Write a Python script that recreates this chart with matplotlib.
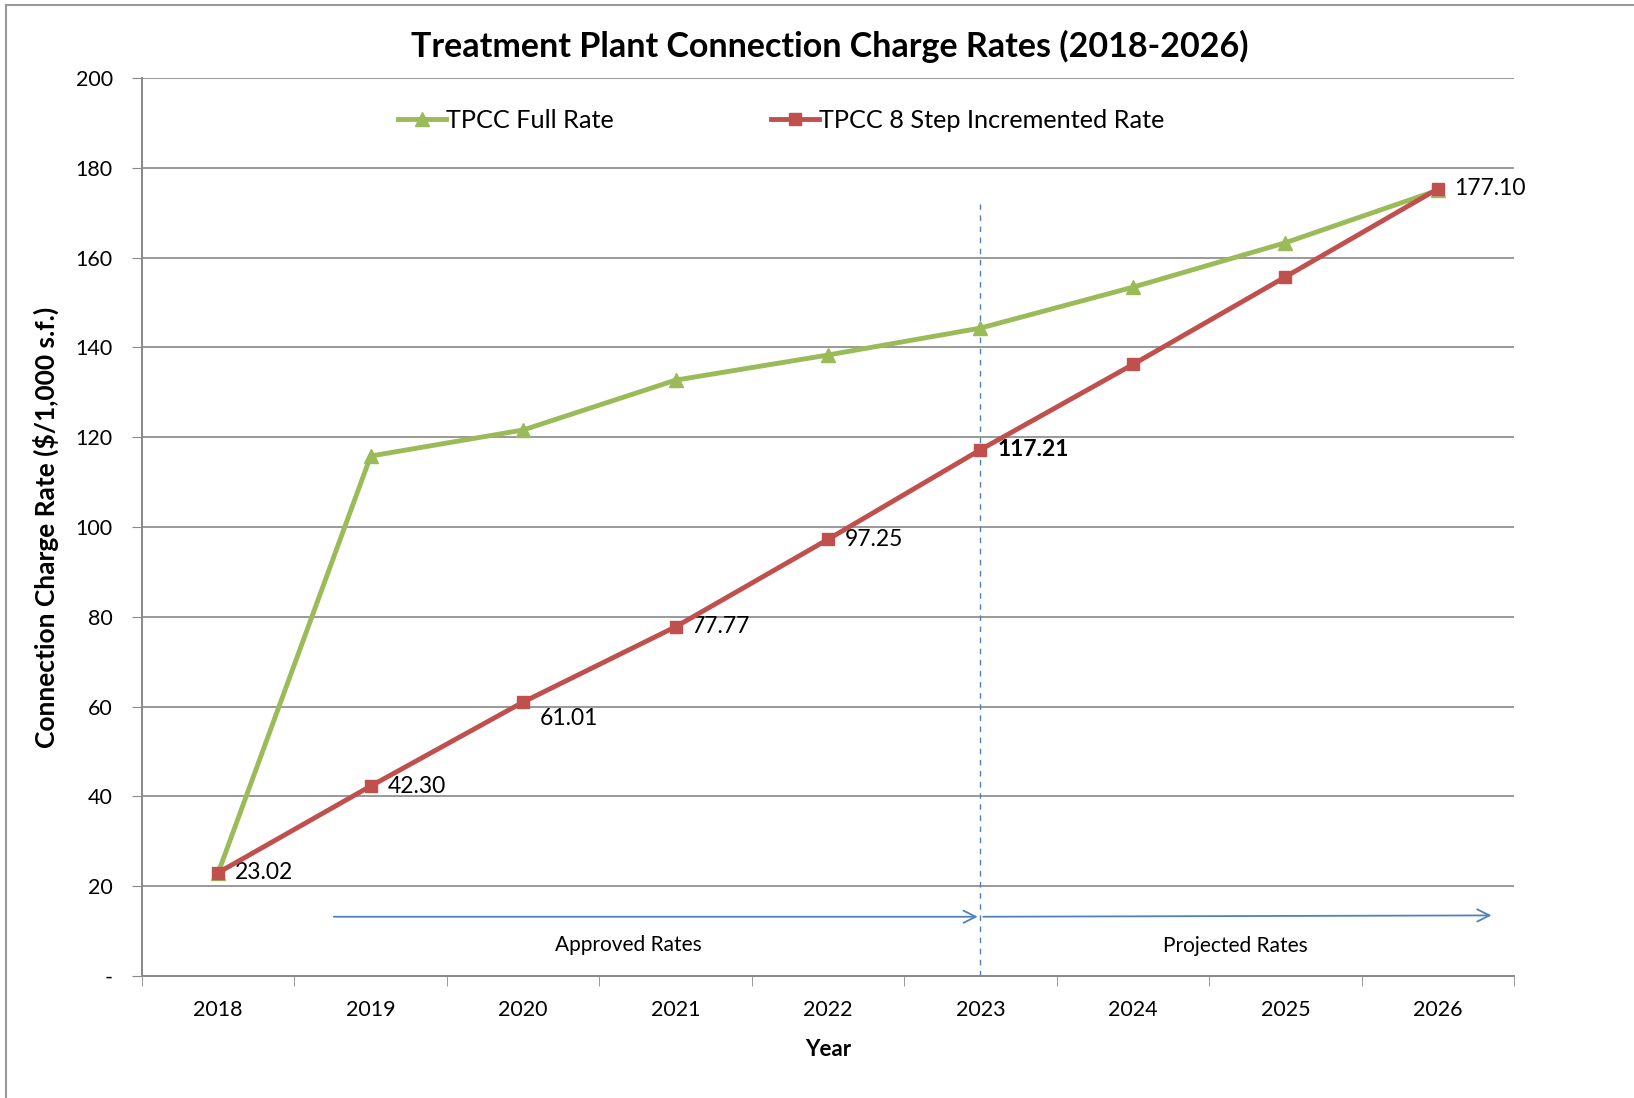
import matplotlib
matplotlib.use("Agg")
import matplotlib.pyplot as plt
from matplotlib.lines import Line2D

plt.rcParams['font.family'] = ['Lato', 'DejaVu Sans']

# chart data
years = ['2018', '2019', '2020', '2021', '2022', '2023', '2024', '2025', '2026']
full_rate = [23.0, 115.8, 121.6, 132.7, 138.3, 144.3, 153.4, 163.3, 175.0]
step_rate = [23.02, 42.30, 61.01, 77.77, 97.25, 117.21, 136.2, 155.7, 175.3]
step_labels = ['23.02', '42.30', '61.01', '77.77', '97.25', '117.21', '', '', '177.10']
yticks = [0, 20, 40, 60, 80, 100, 120, 140, 160, 180, 200]
ytick_labels = ['-', '20', '40', '60', '80', '100', '120', '140', '160', '180', '200']

green = '#9bbb59'
red = '#c0504d'
blue = '#4f81bd'

fig = plt.figure(figsize=(16.34, 10.98), dpi=100)
ax = fig.add_axes([0.0869, 0.1111, 0.8397, 0.8179])

x = list(range(len(years)))
ax.plot(x, full_rate, color=green, lw=3.5, marker='^', ms=10, label='TPCC Full Rate', zorder=3)
ax.plot(x, step_rate, color=red, lw=3.5, marker='s', ms=8, label='TPCC 8 Step Incremented Rate', zorder=4)

# data labels on the stepped rate
for i, (v, lab) in enumerate(zip(step_rate, step_labels)):
    if not lab:
        continue
    dy = -12 if i == 2 else 0
    weight = 'bold' if i == 5 else 'normal'
    ax.annotate(lab, (i, v), xytext=(12, dy), textcoords='offset points',
                fontsize=16.5, va='center', ha='left', fontweight=weight, color='black')

ax.set_xlim(-0.5, len(years) - 0.5)
ax.set_ylim(0, 200)
ax.set_yticks(yticks)
ax.set_yticklabels(ytick_labels, fontsize=15.5)
ax.set_xticks(x)
ax.set_xticklabels(years, fontsize=15.5)
ax.tick_params(axis='x', length=0, pad=17)
ax.set_xticks([i - 0.5 for i in range(len(years) + 1)], minor=True)
ax.tick_params(axis='x', which='minor', length=7, color='#888888', direction='out')
ax.tick_params(axis='y', length=7, color='#888888', direction='out', pad=14)

ax.grid(axis='y', color='#999999', lw=1.4)
ax.set_axisbelow(True)
for s in ['top', 'right']:
    ax.spines[s].set_visible(False)
ax.spines['left'].set_color('#888888')
ax.spines['bottom'].set_color('#888888')
ax.spines['left'].set_linewidth(1.4)
ax.spines['bottom'].set_linewidth(1.4)

# period divider and arrows
ax.plot([5, 5], [0, 172], color=blue, lw=1, ls=(0, (4, 4)), zorder=2)
ax.annotate('', xy=(5, 13.2), xytext=(0.74, 13.2),
            arrowprops=dict(arrowstyle='->', color=blue, lw=1.3, mutation_scale=22))
ax.annotate('', xy=(8.37, 13.5), xytext=(5, 13.2),
            arrowprops=dict(arrowstyle='->', color=blue, lw=1.3, mutation_scale=22))
ax.text(2.69, 7.0, 'Approved Rates', fontsize=15, ha='center', va='center')
ax.text(6.67, 6.7, 'Projected Rates', fontsize=15, ha='center', va='center')

ax.legend(loc='center', bbox_to_anchor=(0.466, 0.953), ncol=2, frameon=False,
          fontsize=18.2, handlelength=1.9, handletextpad=0.0, columnspacing=6.2)

fig.suptitle('Treatment Plant Connection Charge Rates (2018-2026)', x=0.508, y=0.973,
             fontsize=24.5, fontweight='bold')
ax.set_xlabel('Year', fontsize=16, fontweight='bold', labelpad=14)
ax.set_ylabel('Connection Charge Rate ($/1,000 s.f.)', fontsize=19, fontweight='bold', labelpad=12)

# outer chart frame (left and top edges visible)
fig.add_artist(Line2D([0.0037, 0.0037], [0, 0.9954], color='#999999', lw=1.5, transform=fig.transFigure))
fig.add_artist(Line2D([0.0037, 1], [0.9954, 0.9954], color='#999999', lw=1.5, transform=fig.transFigure))

fig.savefig('out.png', dpi=100)
